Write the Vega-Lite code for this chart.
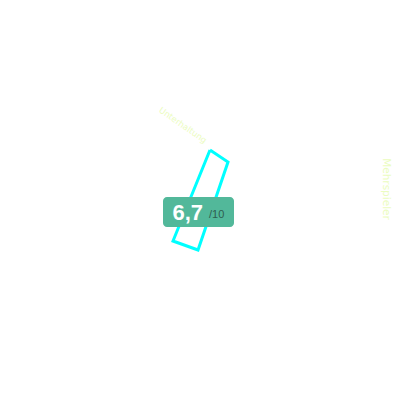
{
  "$schema": "https://vega.github.io/schema/vega-lite/v6.json",
  "width": 400,
  "height": 400,
  "padding": 0,
  "autosize": {"type": "fit", "contains": "padding"},
  "config": {"view": {"stroke": null}},
  "datasets": {
    "shape": [
      {"ord": 1, "px": 210, "py": 150},
      {"ord": 2, "px": 228, "py": 162},
      {"ord": 3, "px": 198, "py": 250},
      {"ord": 4, "px": 173, "py": 241},
      {"ord": 5, "px": 210, "py": 150}
    ],
    "labels": [
      {"name": "Unterhaltung", "px": 183, "py": 125, "rot": 35, "size": 8.5},
      {"name": "Mehrspieler", "px": 386, "py": 189, "rot": 90, "size": 10.5}
    ],
    "score": [
      {"left": 163, "right": 234, "top": 197, "bottom": 227, "mid": 212, "score": "6,7", "of": "/10"}
    ]
  },
  "layer": [
    {
      "data": {"name": "labels"},
      "mark": {"type": "text", "font": "DejaVu Sans", "color": "#ebfcc0", "align": "center", "baseline": "middle"},
      "encoding": {
        "x": {"field": "px", "type": "quantitative", "scale": {"domain": [0, 400]}, "axis": null},
        "y": {"field": "py", "type": "quantitative", "scale": {"domain": [0, 400], "reverse": true}, "axis": null},
        "angle": {"field": "rot", "type": "quantitative", "scale": null},
        "size": {"field": "size", "type": "quantitative", "scale": null},
        "text": {"field": "name"}
      }
    },
    {
      "data": {"name": "shape"},
      "mark": {"type": "line", "color": "#00ffff", "strokeWidth": 3, "strokeJoin": "miter"},
      "encoding": {
        "x": {"field": "px", "type": "quantitative", "scale": {"domain": [0, 400]}, "axis": null},
        "y": {"field": "py", "type": "quantitative", "scale": {"domain": [0, 400], "reverse": true}, "axis": null},
        "order": {"field": "ord"}
      }
    },
    {
      "data": {"name": "score"},
      "layer": [
        {
          "mark": {"type": "rect", "color": "#52b89a", "cornerRadius": 4},
          "encoding": {
            "x": {"field": "left", "type": "quantitative", "scale": {"domain": [0, 400]}, "axis": null},
            "x2": {"field": "right"},
            "y": {"field": "top", "type": "quantitative", "scale": {"domain": [0, 400], "reverse": true}, "axis": null},
            "y2": {"field": "bottom"}
          }
        },
        {
          "mark": {"type": "text", "font": "Liberation Sans", "fontSize": 22, "fontWeight": "bold", "color": "white", "align": "right", "baseline": "middle", "dx": 40, "dy": 1},
          "encoding": {
            "x": {"field": "left", "type": "quantitative", "scale": {"domain": [0, 400]}, "axis": null},
            "y": {"field": "mid", "type": "quantitative", "scale": {"domain": [0, 400], "reverse": true}, "axis": null},
            "text": {"field": "score"}
          }
        },
        {
          "mark": {"type": "text", "font": "Liberation Sans", "fontSize": 11, "color": "#2f5e50", "align": "left", "baseline": "middle", "dx": -25, "dy": 3},
          "encoding": {
            "x": {"field": "right", "type": "quantitative", "scale": {"domain": [0, 400]}, "axis": null},
            "y": {"field": "mid", "type": "quantitative", "scale": {"domain": [0, 400], "reverse": true}, "axis": null},
            "text": {"field": "of"}
          }
        }
      ]
    }
  ]
}
